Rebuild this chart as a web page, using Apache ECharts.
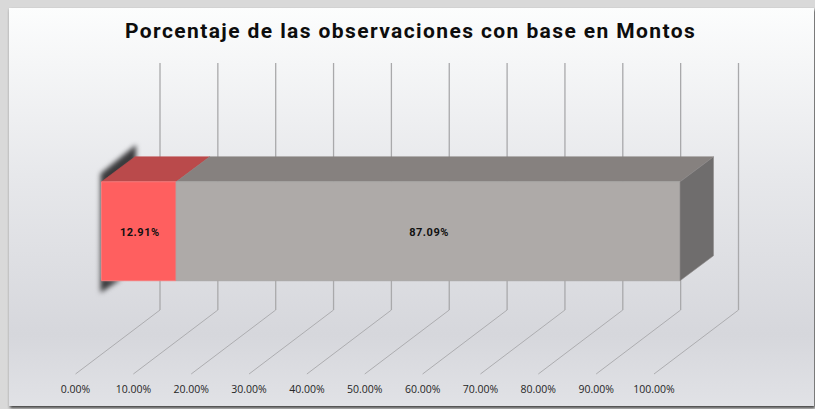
<!DOCTYPE html>
<html><head><meta charset="utf-8">
<style>
html,body{margin:0;padding:0;background:#D9D9D9;overflow:hidden}
#c{width:815px;height:409px}
text[style*="21px"]{letter-spacing:1.4px}
text[style*="11px"]{letter-spacing:0.55px}
path[fill="#3A3A3C" i]{filter:blur(2.8px)}
</style>
<script src="https://cdn.jsdelivr.net/npm/echarts@6/dist/echarts.min.js"></script>
</head><body><div id="c"></div>
<script>
var titleText = "Porcentaje de las observaciones con base en Montos";
var segmentNames = ["Con base en Montos", "Resto"];
var segmentValues = [12.91, 87.09];
var tickValues = [0, 10, 20, 30, 40, 50, 60, 70, 80, 90, 100];

var segmentColors = [
  {front:"#FF5F5F", top:"#BA4A4B", edge:"#F57A7A"},
  {front:"#AEAAA8", top:"#86817F", side:"#6F6D6D", edge:"#A9A7A6"}
];
var WALL = [84.5, -64];      // floor depth in px
var BAR_IN = [26, 0];        // bar inset from axis front
var BAR_D = [33.5, -25];     // bar depth
var BAR_LOW = 0.3, BAR_HIGH = 0.618;

var stacks = [], acc = 0;
segmentValues.forEach(function(v, i){ stacks.push([acc, acc + v, i]); acc += v; });

function pts(a){ return {points:a}; }

var chart = echarts.init(document.getElementById('c'), null, {renderer:'svg', width:815, height:409});
chart.setOption({
  animation:false,
  backgroundColor:'#D9D9D9',
  graphic:[{
    type:'rect', z:-10, silent:true,
    shape:{x:9,y:8,width:805,height:398},
    style:{
      fill:new echarts.graphic.LinearGradient(0,0,0,1,[
        {offset:0,color:'#FCFDFD'},{offset:0.42,color:'#E7E8EB'},
        {offset:0.82,color:'#D6D7DC'},{offset:1,color:'#E1E2E6'}]),
      shadowBlur:3, shadowColor:'rgba(40,40,40,0.85)', shadowOffsetX:1, shadowOffsetY:2
    }
  }],
  title:{
    text:titleText, left:125, top:20,
    padding:0, itemGap:0,
    textStyle:{fontFamily:'Roboto',fontWeight:'bold',fontSize:21,color:'#0D0D0D'}
  },
  grid:{left:75.5,width:578.5,top:63,height:311,containLabel:false},
  xAxis:{
    type:'value',min:0,max:100,interval:10,
    axisLine:{show:false},axisTick:{show:false},splitLine:{show:false},
    axisLabel:{margin:9,fontFamily:'Open Sans',fontSize:10.5,color:'#262626',
      showMinLabel:true,showMaxLabel:true,
      formatter:function(v){return v.toFixed(2)+'%';}}
  },
  yAxis:{type:'value',min:0,max:1,show:false},
  series:[
    {
      type:'custom',clip:false,silent:true,z:2,
      data:tickValues.map(function(v){return [v];}),
      encode:{x:0},
      renderItem:function(p,api){
        var a=api.coord([api.value(0),0]), b=api.coord([api.value(0),1]);
        var bx=a[0]+WALL[0], by=a[1]+WALL[1];
        return {type:'group',children:[
          {type:'polyline',shape:pts([[a[0],a[1]],[bx,by]]),style:{fill:null,stroke:'#ADADB0',lineWidth:1}},
          {type:'polyline',shape:pts([[bx,by],[bx,b[1]]]),style:{fill:null,stroke:'#A9A9AB',lineWidth:1.3}}
        ]};
      }
    },
    {
      type:'custom',clip:false,silent:true,z:3,
      data:[[0]],encode:{x:0},
      renderItem:function(p,api){
        var a=api.coord([0,BAR_LOW]), t=api.coord([0,BAR_HIGH]);
        var x=a[0]+BAR_IN[0];
        return {type:'polygon',
          shape:pts([[x+BAR_D[0]+1,t[1]+BAR_D[1]-12],[x+BAR_D[0]+1,t[1]+BAR_D[1]+4],[x+4,t[1]+4],
            [x+3,a[1]-2],[x+20,a[1]-2],[x-1,a[1]+12],[x-1,t[1]-8]]),
          style:{fill:'#3A3A3C'}};
      }
    },
    {
      type:'custom',clip:false,silent:true,z:4,
      data:stacks,encode:{x:[0,1]},
      renderItem:function(p,api){
        var i=api.value(2), c=segmentColors[i];
        var lo=api.coord([api.value(0),BAR_LOW]), hi=api.coord([api.value(1),BAR_HIGH]);
        var x0=lo[0]+BAR_IN[0], x1=hi[0]+BAR_IN[0], yb=lo[1], yt=hi[1];
        var dx=BAR_D[0], dy=BAR_D[1];
        var kids=[
          {type:'polygon',shape:pts([[x0,yt],[x0+dx,yt+dy],[x1+dx,yt+dy],[x1,yt]]),
            style:{fill:c.top,stroke:c.top,lineWidth:0.6}},
          {type:'polygon',shape:pts([[x0,yt],[x1,yt],[x1,yb],[x0,yb]]),
            style:{fill:c.front,stroke:c.edge,lineWidth:1}}
        ];
        if(c.side){
          kids.push({type:'polygon',shape:pts([[x1,yt],[x1+dx,yt+dy],[x1+dx,yb+dy],[x1,yb]]),
            style:{fill:c.side,stroke:'#8E8C8C',lineWidth:0.6}});
        }
        kids.push({type:'text',style:{
          x:(x0+x1)/2+1,y:(yb+yt)/2+1,text:segmentValues[i].toFixed(2)+'%',
          align:'center',verticalAlign:'middle',
          font:'bold 11px Roboto',fill:'#111111'}});
        return {type:'group',children:kids};
      }
    }
  ]
});
</script></body></html>
